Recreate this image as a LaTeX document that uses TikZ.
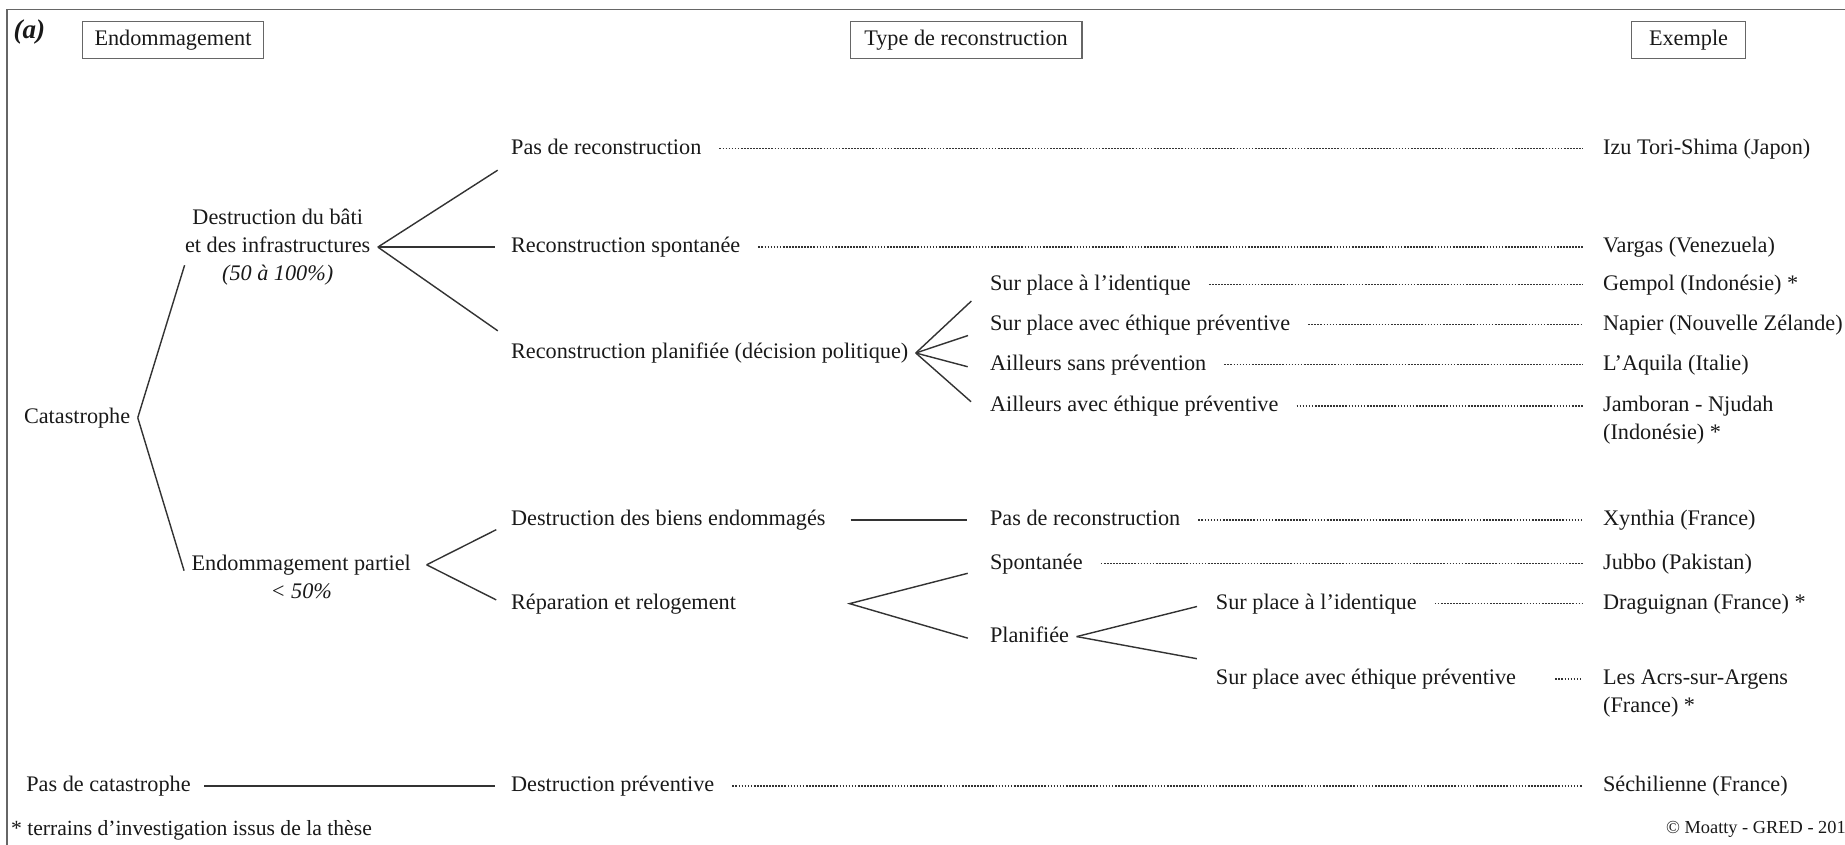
\documentclass[tikz,border=0pt]{standalone}
\usepackage{fontspec}
\setmainfont{Liberation Serif}
\usetikzlibrary{positioning}

\begin{document}
\begin{tikzpicture}[x=0.5pt, y=-0.5pt,
  every node/.style={font=\fontsize{9.45}{11.3}\selectfont, text=black!90},
  lbl/.style={anchor=west, inner sep=3pt, text height=7pt, text depth=2pt},
  sub/.style={inner sep=3pt, text height=7pt, text depth=2pt},
  hdr/.style={draw=black!60, line width=0.5pt, minimum height=16pt, inner sep=0pt},
  link/.style={draw=black!80, line width=0.6pt},
  dots/.style={draw=black!80, line width=0.6pt, dash pattern=on 0.7pt off 0.6pt, shorten <=4.5pt, shorten >=5.5pt}]

\useasboundingbox (0,0) rectangle (1568,718);

% Frame
\draw[black!60, line width=0.5pt] (6,718) -- (6,8) -- (1568,8);

% Headers
\node[font=\fontsize{11.5}{13}\selectfont\bfseries\itshape, inner sep=0pt] (tag) at (25,27) {(a)};
\node[hdr, minimum width=77pt] (hdrdmg) at (147,34) {Endommagement};
\node[hdr, minimum width=98.5pt] (hdrtype) at (821,34) {Type de reconstruction};
\node[hdr, minimum width=48.5pt] (hdrex) at (1435,34) {Exemple};

% Endommagement
\node[lbl] (cat) at (14,355) {Catastrophe};
\node[sub] (infra) at (236,210) {et des infrastructures};
\node[sub, above=-3.5pt of infra] (bati) {Destruction du bâti};
\node[sub, below=-3.5pt of infra, font=\fontsize{9.45}{11.3}\selectfont\itshape] (pct) {(50 à 100\%)};
\node[sub] (partiel) at (256,480) {Endommagement partiel};
\node[sub, below=-3.5pt of partiel, font=\fontsize{9.45}{11.3}\selectfont\itshape] (lt) {< 50\%};
\node[lbl] (pascat) at (16,668) {Pas de catastrophe};

% Type de reconstruction
\node[lbl] (pasrecA) at (428,126) {Pas de reconstruction};
\node[lbl] (spontA) at (428,210) {Reconstruction spontanée};
\node[lbl] (planifA) at (428,300) {Reconstruction planifiée (décision politique)};
\node[lbl] (identA) at (835,242) {Sur place à l’identique};
\node[lbl] (ethiqA) at (835,276) {Sur place avec éthique préventive};
\node[lbl] (ailsans) at (835,310) {Ailleurs sans prévention};
\node[lbl] (ailavec) at (835,345) {Ailleurs avec éthique préventive};
\node[lbl] (biens) at (428,442) {Destruction des biens endommagés};
\node[lbl] (repar) at (428,513) {Réparation et relogement};
\node[lbl] (pasrecB) at (835,442) {Pas de reconstruction};
\node[lbl] (spontB) at (835,479) {Spontanée};
\node[lbl] (planifB) at (835,541) {Planifiée};
\node[lbl] (identB) at (1027,513) {Sur place à l’identique};
\node[lbl] (ethiqB) at (1027,577) {Sur place avec éthique préventive};
\node[lbl] (destprev) at (428,668) {Destruction préventive};
\coordinate (reparfork) at (722,513);

% Exemple
\node[lbl] (izu) at (1356,126) {Izu Tori-Shima (Japon)};
\node[lbl] (vargas) at (1356,210) {Vargas (Venezuela)};
\node[lbl] (gempol) at (1356,242) {Gempol (Indonésie) *};
\node[lbl] (napier) at (1356,276) {Napier (Nouvelle Zélande)};
\node[lbl] (aquila) at (1356,310) {L’Aquila (Italie)};
\node[lbl] (jamb) at (1356,345) {Jamboran - Njudah};
\node[lbl, below=-3.5pt of jamb.south west, anchor=north west] (jambB) {(Indonésie) *};
\node[lbl] (xynthia) at (1356,442) {Xynthia (France)};
\node[lbl] (jubbo) at (1356,479) {Jubbo (Pakistan)};
\node[lbl] (dragui) at (1356,513) {Draguignan (France) *};
\node[lbl] (acrs) at (1356,577) {Les Acrs-sur-Argens};
\node[lbl, below=-3.5pt of acrs.south west, anchor=north west] (acrsB) {(France) *};
\node[lbl] (sech) at (1356,668) {Séchilienne (France)};

% Footer
\node[lbl, font=\fontsize{9.2}{10.5}\selectfont] (note) at (3,705) {* terrains d’investigation issus de la thèse};
\node[anchor=east, inner sep=0pt, font=\fontsize{7.8}{9}\selectfont] (credit) at (1569,705) {© Moatty - GRED - 201};

% Branches
\draw[link] (cat.east) -- ([xshift=3pt]infra.south west);
\draw[link] (cat.east) -- (partiel.base west);
\draw[link, shorten >=3pt] (infra.east) -- (pasrecA.south west);
\draw[link, shorten >=3.5pt] (infra.east) -- (spontA.west);
\draw[link, shorten >=3pt] (infra.east) -- (planifA.north west);
\draw[link, shorten >=6.5pt] (planifA.east) -- (identA.base west);
\draw[link, shorten >=6.5pt] (planifA.east) -- (ethiqA.base west);
\draw[link, shorten >=6.5pt] (planifA.east) -- (ailsans.base west);
\draw[link, shorten >=6.5pt] (planifA.east) -- (ailavec.base west);
\draw[link, shorten >=3.5pt] ([xshift=3.5pt]partiel.east) -- (biens.base west);
\draw[link, shorten >=3.5pt] ([xshift=3.5pt]partiel.east) -- (repar.west);
\draw[link, shorten <=7.5pt, shorten >=6.5pt] (biens.east) -- (pasrecB.west);
\draw[link, shorten <=6.5pt, shorten >=6.5pt] (spontB.base west) -- (reparfork) -- (planifB.base west);
\draw[link, shorten >=5pt] (planifB.east) -- (identB.west);
\draw[link, shorten >=5pt] (planifB.east) -- (ethiqB.north west);
\draw[link, shorten <=2.5pt, shorten >=3.5pt] (pascat.east) -- (destprev.west);

% Dotted leaders
\draw[dots] (pasrecA.east) -- (izu.west);
\draw[dots] (spontA.east) -- (vargas.west);
\draw[dots] (identA.east) -- (gempol.west);
\draw[dots] (ethiqA.east) -- (napier.west);
\draw[dots] (ailsans.east) -- (aquila.west);
\draw[dots] (ailavec.east) -- (jamb.west);
\draw[dots] (pasrecB.east) -- (xynthia.west);
\draw[dots] (spontB.east) -- (jubbo.west);
\draw[dots] (identB.east) -- (dragui.west);
\draw[dots, shorten <=13.5pt] (ethiqB.east) -- (acrs.west);
\draw[dots] (destprev.east) -- (sech.west);

\end{tikzpicture}
\end{document}
